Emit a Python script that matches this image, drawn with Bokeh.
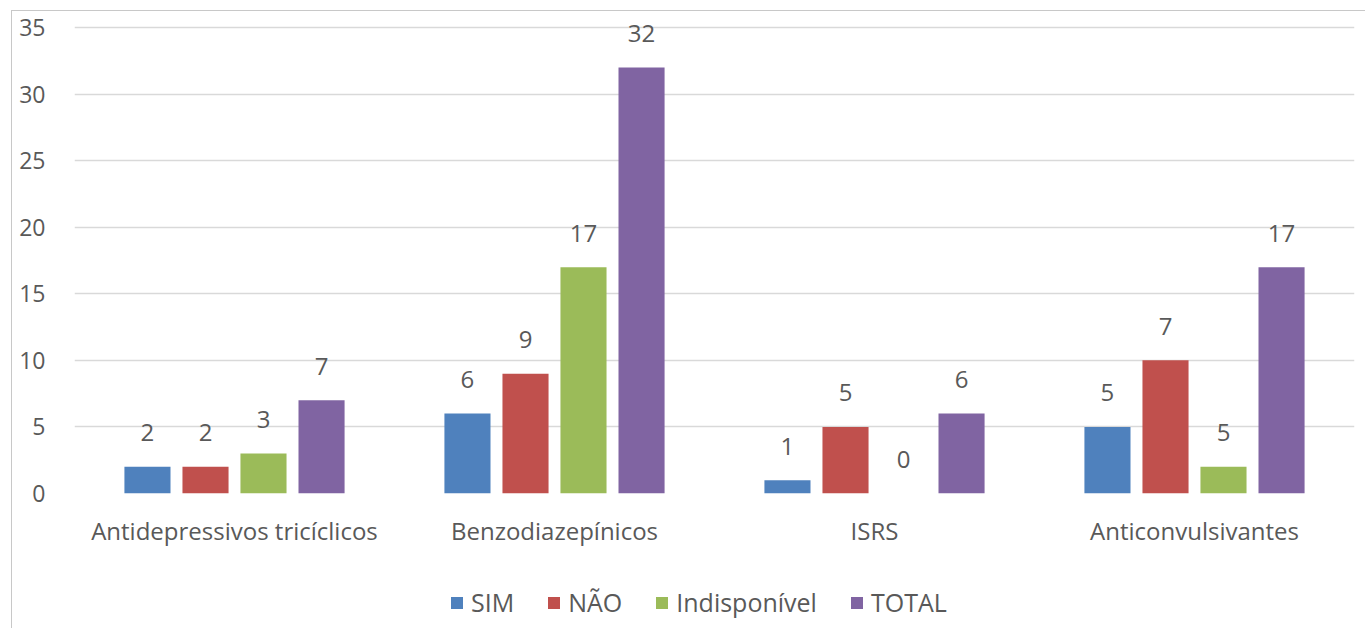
from bokeh.plotting import figure
from bokeh.layouts import column
from bokeh.models import FactorRange, Range1d, Legend, LegendItem, ColumnDataSource, FixedTicker
from bokeh.transform import dodge
from bokeh.core.properties import value
from bokeh.embed import file_html
from bokeh.resources import INLINE

categories = ["Antidepressivos tricíclicos", "Benzodiazepínicos", "ISRS", "Anticonvulsivantes"]
series = ["SIM", "NÃO", "Indisponível", "TOTAL"]
sim = [2, 6, 1, 5]
nao = [2, 9, 5, 10]
indisponivel = [3, 17, 0, 2]
total = [7, 32, 6, 17]
sim_labels = ["2", "6", "1", "5"]
nao_labels = ["2", "9", "5", "7"]
indisponivel_labels = ["3", "17", "0", "5"]
total_labels = ["7", "32", "6", "17"]
y_ticks = [0, 5, 10, 15, 20, 25, 30, 35]
colors = ["#4f81bd", "#c0504d", "#9bbb59", "#8064a2"]

FONT = "Open Sans"
TXT = "#595959"

p = figure(x_range=FactorRange(*categories), y_range=Range1d(0, 36.2),
           width=1354, height=542, output_backend="svg", toolbar_location=None,
           min_border_left=62, min_border_right=12, min_border_top=0, min_border_bottom=60)
p.outline_line_color = None
p.background_fill_color = "white"
p.border_fill_color = "white"

source = ColumnDataSource(dict(cat=categories, SIM=sim, NAO=nao, IND=indisponivel, TOT=total,
                               lSIM=sim_labels, lNAO=nao_labels, lIND=indisponivel_labels, lTOT=total_labels))
keys = [("SIM", "lSIM"), ("NAO", "lNAO"), ("IND", "lIND"), ("TOT", "lTOT")]
offsets = [-0.272, -0.0906, 0.0906, 0.272]
for (k, lk), off, col in zip(keys, offsets, colors):
    p.vbar(x=dodge("cat", off, range=p.x_range), top=k, width=0.144, source=source,
           fill_color=col, line_color=None)
    p.text(x=dodge("cat", off, range=p.x_range), y=k, text=lk, source=source,
           text_align="center", text_baseline="alphabetic", y_offset=-34,
           text_font=value(FONT), text_font_size="24px", text_color=TXT)

p.xgrid.grid_line_color = None
p.ygrid.grid_line_color = "#d9d9d9"
p.ygrid.grid_line_width = 1.5
p.yaxis.ticker = FixedTicker(ticks=y_ticks)
for ax in (p.xaxis, p.yaxis):
    ax.axis_line_color = None
    ax.major_tick_line_color = None
    ax.minor_tick_line_color = None
    ax.major_label_text_font = FONT
    ax.major_label_text_color = TXT
p.yaxis.major_label_text_font_size = "23px"
p.xaxis.major_label_text_font_size = "24px"
p.yaxis.major_label_standoff = 23
p.xaxis.major_label_standoff = 14

# legend panel below the chart
p2 = figure(x_range=Range1d(0, 1), y_range=Range1d(0, 1), width=1354, height=75,
            output_backend="svg", toolbar_location=None,
            min_border_left=0, min_border_right=0, min_border_top=0, min_border_bottom=0)
p2.axis.visible = False
p2.grid.grid_line_color = None
p2.outline_line_color = None
p2.background_fill_color = "white"
p2.border_fill_color = "white"
offscreen = ColumnDataSource(dict(x=[-5], top=[-5]))
items = []
for col, name in zip(colors, series):
    r = p2.vbar(x="x", top="top", width=0.1, source=offscreen, fill_color=col, line_color=None)
    items.append(LegendItem(label=name, renderers=[r]))
legend = Legend(items=items, orientation="horizontal", location=(375, 9),
                glyph_width=15, glyph_height=15, label_standoff=7, spacing=32,
                padding=0, margin=0, border_line_color=None, background_fill_alpha=0,
                label_text_font=FONT, label_text_font_size="25px", label_text_color=TXT)
p2.add_layout(legend)

layout = column(p, p2, spacing=0,
                styles={"margin-left": "11px", "margin-top": "10px",
                        "border-top": "1px solid #c8c8c8", "border-left": "1px solid #c8c8c8"})

open("out.html", "w").write(file_html(layout, INLINE))
